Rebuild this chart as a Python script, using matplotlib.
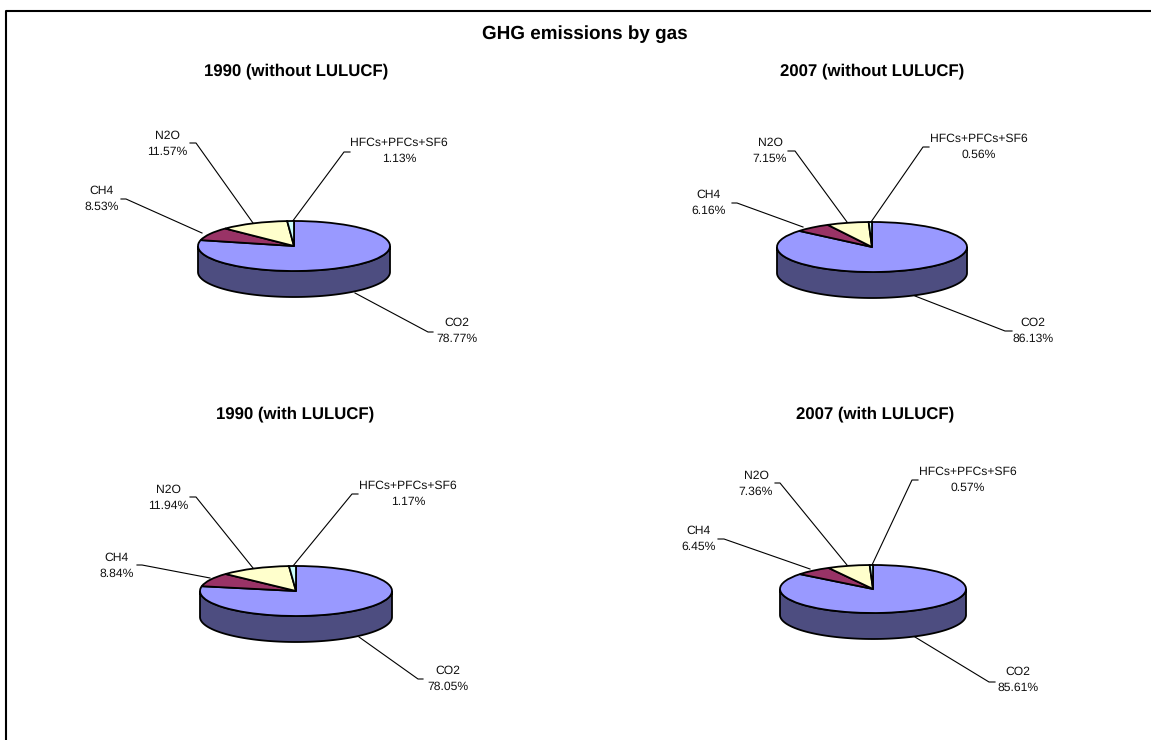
import numpy as np
import matplotlib
matplotlib.use('Agg')
import matplotlib.pyplot as plt

plt.rcParams['font.family'] = ['Liberation Sans', 'DejaVu Sans']
plt.rcParams['text.hinting'] = 'no_hinting'

# chart data
gases = ['CO2', 'CH4', 'N2O', 'HFCs+PFCs+SF6']
panel_titles = ['1990 (without LULUCF)', '2007 (without LULUCF)',
                '1990 (with LULUCF)', '2007 (with LULUCF)']
shares_1990_without = [78.77, 8.53, 11.57, 1.13]
shares_2007_without = [86.13, 6.16, 7.15, 0.56]
shares_1990_with = [78.05, 8.84, 11.94, 1.17]
shares_2007_with = [85.61, 6.45, 7.36, 0.57]
all_shares = [shares_1990_without, shares_2007_without,
              shares_1990_with, shares_2007_with]

# styling
slice_colors = ['#9999FF', '#993366', '#FFFFCC', '#CCFFFF']
wall_color = '#4D4D80'

# layout in image pixels: pie centre x, y, radius x, radius y, wall depth
pie_boxes = [(294, 246, 96, 25, 26), (872, 247, 95, 25, 26),
             (296, 591, 96, 25, 26), (873, 589, 93, 24, 26)]
title_pos = [(296, 71), (872, 71), (295, 414), (875, 414)]
# label centre for each gas, per panel (same order as gases)
label_pos = [
    [(457, 323), (102, 191), (167, 136), (399, 143)],
    [(1033, 323), (709, 195), (770, 143), (979, 139)],
    [(448, 671), (117, 558), (168, 490), (408, 486)],
    [(1018, 672), (699, 531), (756, 476), (968, 472)],
]
# leader lines: three points each, text end first
leaders = [
    [[(433, 332), (428, 332), (355, 293)], [(121, 199), (126, 199), (202, 233)],
     [(190, 143), (196, 143), (253, 223)], [(350, 152), (344, 152), (292, 222)]],
    [[(1012, 331), (1005, 331), (915, 296)], [(732, 203), (737, 203), (803, 227)],
     [(788, 151), (795, 151), (847, 222)], [(929, 147), (923, 147), (871, 222)]],
    [[(423, 679), (418, 679), (359, 637)], [(137, 565), (142, 565), (210, 578)],
     [(190, 497), (196, 497), (253, 568)], [(358, 494), (352, 494), (293, 566)]],
    [[(995, 682), (989, 682), (915, 637)], [(718, 539), (724, 539), (810, 569)],
     [(775, 483), (780, 483), (847, 565)], [(918, 480), (912, 480), (872, 565)]],
]

W, H = 1151, 740


def draw_pie(fig, shares, box):
    cx, cy, rx, ry, depth = box
    # axes box with a little room round the pie so the outline is not clipped
    pad = 4
    left = cx - rx - pad
    right = cx + rx + pad
    top = cy - ry - pad
    bottom = cy + ry + depth + pad
    ax = fig.add_axes([left / W, 1 - bottom / H, (right - left) / W, (bottom - top) / H])
    ax.patch.set_alpha(0)
    t = np.linspace(np.pi, 2 * np.pi, 100)
    d = depth / ry
    xs = np.concatenate([np.cos(t), np.cos(t[::-1])])
    ys = np.concatenate([np.sin(t) - d, np.sin(t[::-1])])
    ax.fill(xs, ys, facecolor=wall_color, edgecolor='black', linewidth=1.3)
    ax.pie(shares, colors=slice_colors, startangle=90, counterclock=False,
           wedgeprops={'edgecolor': 'black', 'linewidth': 1.3})
    ax.set_aspect('auto')
    ax.set_xlim(-1 - pad / rx, 1 + pad / rx)
    ax.set_ylim(-1 - d - pad / ry, 1 + pad / ry)
    ax.axis('off')


def main():
    fig = plt.figure(figsize=(W / 100, H / 100), dpi=100)
    over = fig.add_axes([0, 0, 1, 1])
    over.set_xlim(0, W)
    over.set_ylim(H, 0)
    over.axis('off')

    # chart frame, only top and left are inside the picture
    over.plot([6.5, 6.5, W], [H, 11, 11], color='black', linewidth=1.5)

    over.text(584.5, 34, 'GHG emissions by gas', ha='center', va='center',
              fontsize=13.6, fontweight='bold')

    for i, shares in enumerate(all_shares):
        x, y = title_pos[i]
        over.text(x, y, panel_titles[i], ha='center', va='center',
                  fontsize=12.1, fontweight='bold')
        draw_pie(fig, shares, pie_boxes[i])
        for j, gas in enumerate(gases):
            lx, ly = label_pos[i][j]
            over.text(lx, ly, gas, ha='center', va='center', fontsize=8.7, color='#111111')
            over.text(lx, ly + 15.5, '%.2f%%' % shares[j], ha='center', va='center',
                      fontsize=8.7, color='#111111')
            pts = leaders[i][j]
            over.plot([p[0] for p in pts], [p[1] for p in pts], color='black', linewidth=0.8)

    fig.savefig('out.png', dpi=100, facecolor='white')


if __name__ == '__main__':
    main()
